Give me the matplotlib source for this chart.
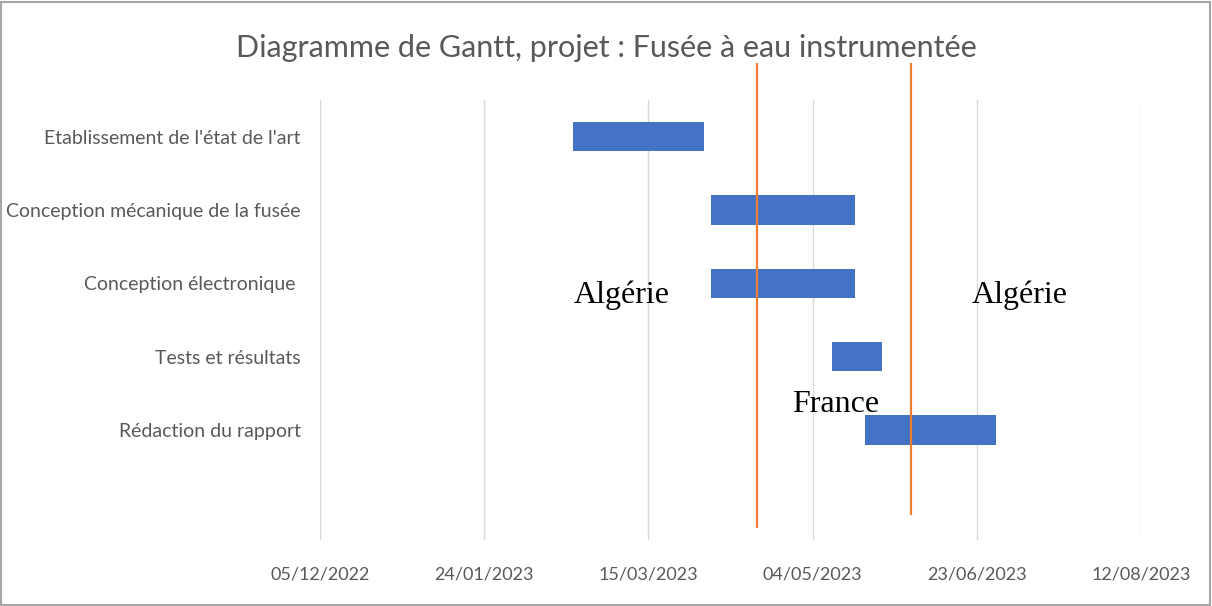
import datetime as dt
import matplotlib
matplotlib.use("Agg")
import matplotlib.pyplot as plt
import matplotlib.dates as mdates
from matplotlib.patches import Rectangle

# tasks, top to bottom
tasks = [
    "Etablissement de l'état de l'art",
    "Conception mécanique de la fusée",
    "Conception électronique ",
    "Tests et résultats",
    "Rédaction du rapport",
]
starts = ["2023-02-20", "2023-04-03", "2023-04-03", "2023-05-10", "2023-05-20"]
ends = ["2023-04-01", "2023-05-17", "2023-05-17", "2023-05-25", "2023-06-29"]

# location periods separated by orange markers
markers = ["2023-04-17", "2023-06-03"]
places = ["Algérie", "France", "Algérie"]
place_dates = ["2023-03-07", "2023-05-11", "2023-07-06"]
place_rows = [2.27, 3.75, 2.27]

ticks = ["2022-12-05", "2023-01-24", "2023-03-15", "2023-05-04", "2023-06-23", "2023-08-12"]

def d(s):
    return mdates.date2num(dt.datetime.strptime(s, "%Y-%m-%d"))

plt.rcParams["font.family"] = ["Lato", "DejaVu Sans"]

fig = plt.figure(figsize=(12.12, 6.06), dpi=100)
ax = fig.add_axes([0.264, 0.109, 0.9414 - 0.264, 0.835 - 0.109])

left = [d(s) for s in starts]
width = [d(e) - d(s) for s, e in zip(starts, ends)]
ax.barh(range(len(tasks)), width, left=left, height=0.4, color="#4472C4", zorder=3)

ax.set_xlim(d(ticks[0]), d(ticks[-1]))
ax.set_ylim(5.5, -0.5)
ax.set_yticks(range(len(tasks)))
ax.set_yticklabels(tasks, fontsize=14, color="#595959")
ax.set_xticks([d(t) for t in ticks])
ax.set_xticklabels([dt.datetime.strptime(t, "%Y-%m-%d").strftime("%d/%m/%Y") for t in ticks],
                   fontsize=13, color="#595959")
ax.tick_params(axis="both", length=0)
ax.tick_params(axis="y", pad=14)
ax.tick_params(axis="x", pad=19)
ax.grid(axis="x", color="#D9D9D9", linewidth=1)
ax.set_axisbelow(True)
for sp in ax.spines.values():
    sp.set_visible(False)

# orange separators drawn past the plot area
ax.vlines([d(markers[0])], -1.0, 5.34, color="#ED7D31", linewidth=1.6, clip_on=False, zorder=4)
ax.vlines([d(markers[1])], -1.0, 5.16, color="#ED7D31", linewidth=1.6, clip_on=False, zorder=4)

for name, x, y in zip(places, place_dates, place_rows):
    ax.text(d(x), y, name, fontsize=23, family="Liberation Serif", color="black",
            ha="center", va="baseline", zorder=5)

fig.text(0.5, 0.92, "Diagramme de Gantt, projet : Fusée à eau instrumentée",
         fontsize=22, color="#595959", ha="center", va="center")

fig.patches.append(Rectangle((0.001, 0.002), 0.997, 0.995, transform=fig.transFigure,
                             fill=False, edgecolor="#A6A6A6", linewidth=1.5))

fig.savefig("out.png", dpi=100)
